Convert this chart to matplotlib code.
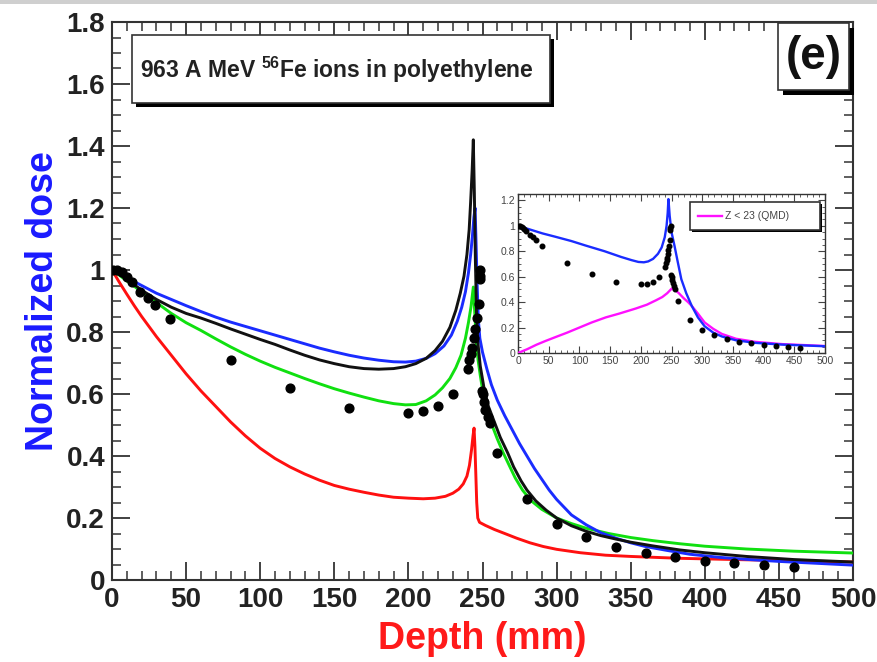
import matplotlib
matplotlib.use("Agg")
import matplotlib.pyplot as plt
from matplotlib.patches import Rectangle
from matplotlib.ticker import MultipleLocator, FuncFormatter

# ---------------- data ----------------
blue_x = [0, 5, 10, 20, 30, 40, 50, 60, 70, 80, 90, 100, 110, 120, 130, 140, 150, 160, 170, 180,
          190, 198, 205, 212, 218, 224, 229, 233, 236, 238.5, 240.5, 242, 243.2, 244.2, 245,
          245.7, 246.4, 247.2, 248.2, 250, 253, 256, 260, 265, 270, 275, 280, 285, 290, 295, 300,
          310, 320, 330, 340, 350, 360, 375, 390, 410, 430, 450, 475, 500]
blue_y = [1.0, 0.988, 0.975, 0.95, 0.925, 0.905, 0.885, 0.866, 0.848, 0.832, 0.818, 0.804, 0.79,
          0.776, 0.762, 0.748, 0.736, 0.725, 0.716, 0.709, 0.704, 0.703, 0.706, 0.715, 0.73,
          0.755, 0.79, 0.835, 0.88, 0.93, 0.99, 1.05, 1.11, 1.17, 1.2, 1.08, 0.95, 0.84, 0.78,
          0.735, 0.68, 0.63, 0.58, 0.53, 0.485, 0.44, 0.40, 0.36, 0.325, 0.29, 0.26, 0.21, 0.178,
          0.152, 0.135, 0.12, 0.108, 0.095, 0.083, 0.073, 0.066, 0.06, 0.054, 0.048]

black_x = [0, 5, 10, 20, 30, 40, 50, 60, 70, 80, 90, 100, 110, 120, 130, 140, 150, 160, 170, 180,
           190, 198, 205, 212, 218, 223, 228, 232, 235, 237.5, 239.5, 241, 242, 243, 243.8,
           244.5, 245.2, 246, 247, 248.5, 251, 254, 258, 262, 267, 271, 276, 280, 286, 293, 300,
           310, 320, 330, 340, 350, 365, 383, 400, 428, 460, 500]
black_y = [1.0, 0.985, 0.97, 0.935, 0.905, 0.88, 0.86, 0.845, 0.828, 0.81, 0.793, 0.776, 0.76,
           0.742, 0.725, 0.71, 0.698, 0.688, 0.682, 0.68, 0.682, 0.688, 0.698, 0.715, 0.74, 0.77,
           0.815, 0.87, 0.925, 0.98, 1.05, 1.13, 1.22, 1.32, 1.42, 1.25, 1.03, 0.85, 0.76, 0.69,
           0.62, 0.56, 0.51, 0.46, 0.41, 0.365, 0.32, 0.29, 0.255, 0.225, 0.2, 0.175, 0.157,
           0.143, 0.132, 0.122, 0.11, 0.097, 0.088, 0.076, 0.066, 0.058]

green_x = [0, 5, 10, 20, 30, 40, 50, 60, 70, 80, 90, 100, 110, 120, 130, 140, 150, 160, 170, 180,
           190, 198, 205, 212, 218, 223, 228, 232, 235.5, 238.5, 240.5, 242.2, 243.8, 244.8,
           245.8, 247, 248.5, 250.5, 253, 256, 260, 264, 268, 272, 277, 283, 290, 300, 310, 320,
           335, 350, 365, 383, 400, 428, 460, 500]
green_y = [1.0, 0.983, 0.965, 0.93, 0.895, 0.86, 0.83, 0.805, 0.778, 0.752, 0.728, 0.706, 0.686,
           0.668, 0.65, 0.633, 0.617, 0.603, 0.59, 0.578, 0.569, 0.565, 0.566, 0.578, 0.597,
           0.62, 0.65, 0.685, 0.725, 0.78, 0.83, 0.88, 0.945, 0.86, 0.77, 0.71, 0.66, 0.60, 0.55,
           0.505, 0.455, 0.41, 0.37, 0.33, 0.29, 0.255, 0.228, 0.2, 0.182, 0.167, 0.15, 0.137,
           0.127, 0.117, 0.109, 0.10, 0.093, 0.087]

red_x = [0, 5, 10, 15, 20, 30, 40, 50, 60, 70, 80, 90, 100, 110, 120, 130, 140, 150, 160, 170,
         180, 190, 200, 210, 218, 225, 230, 234, 237, 239.5, 241.2, 242.6, 243.6, 244.3, 244.9,
         245.5, 246.1, 246.8, 248, 252, 258, 265, 273, 282, 291, 300, 316, 333, 350, 383, 420,
         460, 500]
red_y = [1.0, 0.96, 0.922, 0.885, 0.85, 0.785, 0.725, 0.665, 0.61, 0.56, 0.51, 0.465, 0.425,
         0.392, 0.365, 0.342, 0.322, 0.305, 0.293, 0.283, 0.274, 0.267, 0.264, 0.262, 0.264,
         0.27, 0.28, 0.293, 0.31, 0.335, 0.37, 0.42, 0.465, 0.49, 0.43, 0.34, 0.25, 0.20, 0.186,
         0.176, 0.163, 0.15, 0.135, 0.12, 0.108, 0.099, 0.088, 0.08, 0.076, 0.07, 0.066, 0.062,
         0.058]

dots_x = [1, 3.4, 6.7, 10, 13.5, 19, 24, 29, 39, 80, 120, 160, 200, 210, 220, 230,
          240, 241, 242, 243, 244, 245, 246, 247.5, 248, 248.3, 248.6,
          249.5, 250, 251, 252, 253.5, 255, 260, 280, 300, 320, 340, 360, 380, 400, 420, 440, 460]
dots_y = [1.0, 1.0, 0.994, 0.977, 0.96, 0.93, 0.91, 0.887, 0.842, 0.71, 0.62, 0.555, 0.54, 0.545,
          0.56, 0.60, 0.68, 0.71, 0.73, 0.75, 0.78, 0.81, 0.845, 0.89, 0.97, 0.98, 1.0,
          0.61, 0.60, 0.575, 0.55, 0.525, 0.505, 0.41, 0.26, 0.18, 0.14, 0.107, 0.088, 0.075,
          0.062, 0.055, 0.048, 0.043]

inset_blue_x = [0, 20, 40, 60, 87, 110, 141, 168, 185, 196, 205, 212, 220, 228, 234, 239, 242,
                243.8, 245, 247, 250, 255, 260, 266, 274, 283, 293, 304, 318, 332, 355, 386, 430,
                500]
inset_blue_y = [1.0, 0.97, 0.94, 0.915, 0.88, 0.845, 0.80, 0.755, 0.73, 0.716, 0.713, 0.72, 0.74,
                0.78, 0.83, 0.91, 1.0, 1.1, 1.21, 1.08, 0.95, 0.84, 0.72, 0.58, 0.47, 0.37, 0.28,
                0.21, 0.16, 0.13, 0.10, 0.08, 0.066, 0.053]

mag_x = [0, 15, 30, 45, 61, 80, 100, 120, 143, 165, 192, 210, 225, 235, 243, 250, 255, 262, 270,
         277, 283, 293, 304, 318, 332, 355, 386, 430, 500]
mag_y = [0.0, 0.03, 0.065, 0.095, 0.125, 0.16, 0.2, 0.24, 0.28, 0.31, 0.35, 0.38, 0.415, 0.44,
         0.47, 0.505, 0.50, 0.47, 0.43, 0.40, 0.37, 0.31, 0.24, 0.19, 0.15, 0.112, 0.088, 0.07,
         0.055]

x_ticks = [0, 50, 100, 150, 200, 250, 300, 350, 400, 450, 500]
y_ticks = [0, 0.2, 0.4, 0.6, 0.8, 1.0, 1.2, 1.4, 1.6, 1.8]
inset_y_ticks = [0, 0.2, 0.4, 0.6, 0.8, 1.0, 1.2]

title_text = "963 A MeV $\\mathbf{^{56}}$Fe ions in polyethylene"
panel_text = "(e)"
legend_text = "Z < 23 (QMD)"

# ---------------- figure ----------------
W, H = 877, 662
fig = plt.figure(figsize=(W / 100, H / 100), dpi=100)
plt.rcParams['font.family'] = ['Liberation Sans', 'DejaVu Sans']
plt.rcParams['mathtext.fontset'] = 'custom'
plt.rcParams['mathtext.bf'] = 'Liberation Sans:bold'
plt.rcParams['mathtext.rm'] = 'Liberation Sans'

fig.add_artist(Rectangle((0, 1 - 4 / H), 1, 4 / H, transform=fig.transFigure,
                         color='#cfcfcf', lw=0))

ax = fig.add_axes([112 / W, (H - 580) / H, 741 / W, 558 / H])
fmt = FuncFormatter(lambda v, p: "%g" % round(v, 3))

lw = 2.1
ax.plot(red_x, red_y, color='#ff1010', lw=lw, zorder=3)
ax.plot(green_x, green_y, color='#10e010', lw=lw, zorder=3)
ax.plot(blue_x, blue_y, color='#1a2cff', lw=lw, zorder=4)
ax.plot(black_x, black_y, color='#111111', lw=lw, zorder=5)
ax.plot(dots_x, dots_y, 'o', color='black', ms=6.3, zorder=6)

ax.set_xlim(0, 500)
ax.set_ylim(0, 1.8)
ax.set_xticks(x_ticks)
ax.set_yticks(y_ticks)
ax.xaxis.set_minor_locator(MultipleLocator(10))
ax.yaxis.set_minor_locator(MultipleLocator(0.05))
ax.xaxis.set_major_formatter(fmt)
ax.yaxis.set_major_formatter(fmt)
ax.tick_params(which='both', direction='in', top=True, right=True, color='#333333')
ax.tick_params(which='major', length=13, width=1.3, labelsize=20, pad=5)
ax.tick_params(which='minor', length=6.5, width=1.1)
for lab in ax.get_xticklabels() + ax.get_yticklabels():
    lab.set_fontweight('bold')
    lab.set_color('#222222')
for s in ax.spines.values():
    s.set_linewidth(1.5)
    s.set_color('#333333')

ax.set_xlabel("Depth (mm)", fontsize=27, fontweight='bold', color='#ff1a1a', labelpad=6)
ax.set_ylabel("Normalized dose", fontsize=27, fontweight='bold', color='#1a1aff', labelpad=4)


def shadow_box(a, x0, y0, x1, y1, dx, dy):
    a.add_patch(Rectangle((x0 + dx, y0 - dy), x1 - x0, y1 - y0, transform=a.transAxes,
                          facecolor='black', edgecolor='none', zorder=8, clip_on=False))
    a.add_patch(Rectangle((x0, y0), x1 - x0, y1 - y0, transform=a.transAxes,
                          facecolor='white', edgecolor='#333333', lw=1.2, zorder=9,
                          clip_on=False))


# title box
shadow_box(ax, 0.027, 0.855, 0.591, 0.977, 0.005, 0.007)
ax.text(0.038, 0.914, title_text, transform=ax.transAxes, fontsize=16.5, fontweight='bold',
        color='#222222', va='center', ha='left', zorder=10)

# panel label box
shadow_box(ax, 0.899, 0.878, 0.995, 0.998, 0.006, 0.008)
ax.text(0.947, 0.938, panel_text, transform=ax.transAxes, fontsize=33, fontweight='bold',
        color='#111111', va='center', ha='center', zorder=10)

# ---------------- inset ----------------
ia = fig.add_axes([518 / W, (H - 353) / H, 307 / W, 159 / H])
ia.plot(mag_x, mag_y, color='#ff10ff', lw=1.7, zorder=3)
ia.plot(inset_blue_x, inset_blue_y, color='#1a2cff', lw=1.7, zorder=4)
ia.plot(dots_x, dots_y, 'o', color='black', ms=3.3, zorder=5)
ia.set_xlim(0, 500)
ia.set_ylim(0, 1.25)
ia.set_xticks(x_ticks)
ia.set_yticks(inset_y_ticks)
ia.xaxis.set_minor_locator(MultipleLocator(10))
ia.yaxis.set_minor_locator(MultipleLocator(0.05))
ia.xaxis.set_major_formatter(fmt)
ia.yaxis.set_major_formatter(fmt)
ia.tick_params(which='both', direction='in', top=True, right=True, color='#444444')
ia.tick_params(which='major', length=5, width=0.8, labelsize=7.5, pad=2, labelcolor='#444444')
ia.tick_params(which='minor', length=2.5, width=0.6)
for s in ia.spines.values():
    s.set_linewidth(1.0)
    s.set_color('#333333')

shadow_box(ia, 0.56, 0.774, 0.984, 0.95, 0.006, 0.012)
ia.plot([0.585, 0.665], [0.862, 0.862], transform=ia.transAxes, color='#ff10ff', lw=1.7,
        zorder=10, clip_on=False)
ia.text(0.675, 0.862, legend_text, transform=ia.transAxes, fontsize=7.5, color='#444444',
        va='center', ha='left', zorder=10)

fig.savefig("out.png", dpi=100)
